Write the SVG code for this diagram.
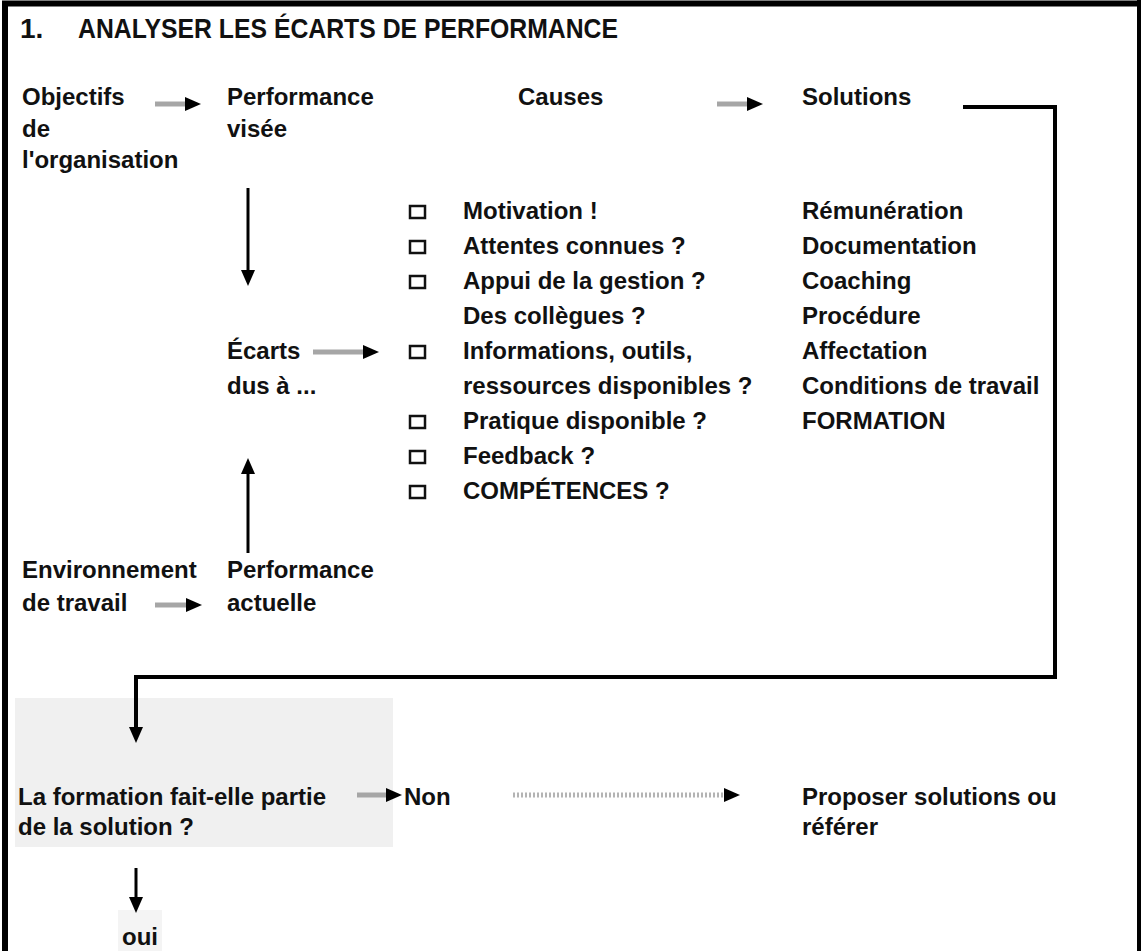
<svg xmlns="http://www.w3.org/2000/svg" width="1141" height="951" viewBox="0 0 1141 951">
  <style>
    text { font-family: "Liberation Sans", Arial, sans-serif; font-weight: bold; font-size: 24px; fill: #111; }
    .title { font-size: 28px; font-weight: bold; }
    .frame { fill: none; stroke: #000; }
    .shaft { stroke: #a6a6a6; stroke-width: 5; fill: none; }
    .dots { stroke: #b4b4b4; stroke-width: 5; stroke-dasharray: 2 2; fill: none; }
    .link { stroke: #000; stroke-width: 4; fill: none; }
    .vlink { stroke: #000; stroke-width: 3; fill: none; }
    .check { fill: #fff; stroke: #111; stroke-width: 2.5; }
    .panel { fill: #f0f0f0; }
    .panel-light { fill: #f4f4f4; }
  </style>
  <defs>
    <!-- solid black arrowhead; its base sits on the end of the line -->
    <marker id="tip" viewBox="0 0 16 16" refX="0" refY="8" markerWidth="16" markerHeight="16" markerUnits="userSpaceOnUse" orient="auto">
      <path d="M0,1 L16,8 L0,15 Z" fill="#000"/>
    </marker>
  </defs>

  <rect width="1141" height="951" fill="#fff"/>

  <!-- page frame -->
  <path class="frame" stroke-width="6" d="M5,951 V3.5 H1141"/>
  <path class="frame" stroke-width="4" d="M1139,0 V951"/>

  <!-- heading -->
  <text class="title" x="20" y="38">1.</text>
  <text class="title" x="78" y="38" textLength="540" lengthAdjust="spacingAndGlyphs">ANALYSER LES ÉCARTS DE PERFORMANCE</text>

  <!-- nodes -->
  <g id="objectifs">
    <text x="22" y="105">Objectifs</text>
    <text x="22" y="137">de</text>
    <text x="22" y="168">l'organisation</text>
  </g>
  <g id="performance-visee">
    <text x="227" y="105">Performance</text>
    <text x="227" y="137">visée</text>
  </g>
  <g id="causes">
    <text x="518" y="105">Causes</text>
  </g>
  <g id="solutions">
    <text x="802" y="105">Solutions</text>
  </g>
  <g id="ecarts">
    <text x="227" y="359">Écarts</text>
    <text x="227" y="394">dus à ...</text>
  </g>
  <g id="liste-causes">
    <rect class="check" x="410" y="206" width="15" height="12"/>
    <rect class="check" x="410" y="241" width="15" height="12"/>
    <rect class="check" x="410" y="276" width="15" height="12"/>
    <rect class="check" x="410" y="346" width="15" height="12"/>
    <rect class="check" x="410" y="416" width="15" height="12"/>
    <rect class="check" x="410" y="451" width="15" height="12"/>
    <rect class="check" x="410" y="486" width="15" height="12"/>
    <text x="463" y="219">Motivation !</text>
    <text x="463" y="254">Attentes connues ?</text>
    <text x="463" y="289">Appui de la gestion ?</text>
    <text x="463" y="324">Des collègues ?</text>
    <text x="463" y="359">Informations, outils,</text>
    <text x="463" y="394">ressources disponibles ?</text>
    <text x="463" y="429">Pratique disponible ?</text>
    <text x="463" y="464">Feedback ?</text>
    <text x="463" y="499">COMPÉTENCES ?</text>
  </g>
  <g id="liste-solutions">
    <text x="802" y="219">Rémunération</text>
    <text x="802" y="254">Documentation</text>
    <text x="802" y="289">Coaching</text>
    <text x="802" y="324">Procédure</text>
    <text x="802" y="359">Affectation</text>
    <text x="802" y="394">Conditions de travail</text>
    <text x="802" y="429">FORMATION</text>
  </g>
  <g id="environnement">
    <text x="22" y="578">Environnement</text>
    <text x="22" y="611">de travail</text>
  </g>
  <g id="performance-actuelle">
    <text x="227" y="578">Performance</text>
    <text x="227" y="611">actuelle</text>
  </g>
  <g id="question-formation">
    <rect class="panel" x="15" y="698" width="378" height="149"/>
    <text x="18" y="805">La formation fait-elle partie</text>
    <text x="18" y="835">de la solution ?</text>
  </g>
  <g id="non">
    <text x="404" y="805">Non</text>
  </g>
  <g id="proposer">
    <text x="802" y="805">Proposer solutions ou</text>
    <text x="802" y="835">référer</text>
  </g>
  <g id="oui">
    <rect class="panel-light" x="118" y="910" width="44" height="41"/>
    <text x="122" y="945">oui</text>
  </g>

  <!-- connectors -->
  <g id="connectors">
    <path class="shaft" d="M155,104 H185" marker-end="url(#tip)"/>
    <path class="shaft" d="M717,104 H747" marker-end="url(#tip)"/>
    <path class="vlink" d="M248,188 V270" marker-end="url(#tip)"/>
    <path class="vlink" d="M248,553 V474" marker-end="url(#tip)"/>
    <path class="shaft" d="M313,352 H363" marker-end="url(#tip)"/>
    <path class="shaft" d="M155,605 H186" marker-end="url(#tip)"/>
    <path class="link" d="M963,107 H1055 V677 H136 V727" marker-end="url(#tip)"/>
    <path class="shaft" d="M357,795 H386" marker-end="url(#tip)"/>
    <path class="dots" d="M513,795 H724" marker-end="url(#tip)"/>
    <path class="vlink" d="M136,868 V897" marker-end="url(#tip)"/>
  </g>
</svg>
